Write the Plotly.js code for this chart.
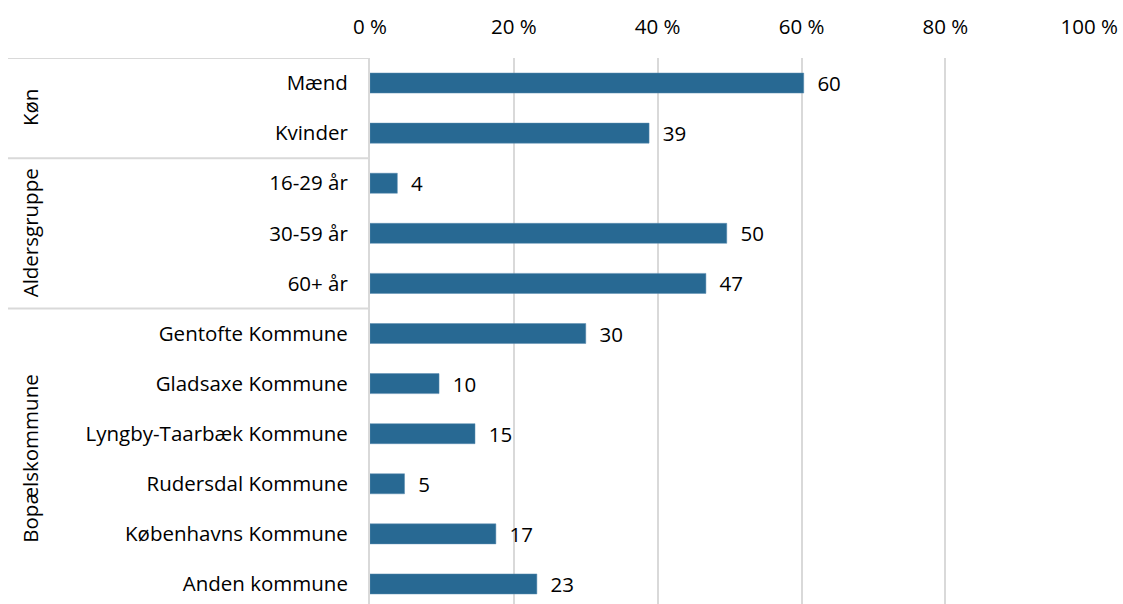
<!DOCTYPE html>
<html>
<head>
<meta charset="utf-8">
<script src="https://cdn.plot.ly/plotly-3.0.1.min.js"></script>
<style>html,body{margin:0;padding:0;background:#fff;}#chart{width:1123px;height:604px;}</style>
</head>
<body>
<div id="chart"></div>
<script>
// Data
const categories = ["Mænd","Kvinder","16-29 år","30-59 år","60+ år","Gentofte Kommune","Gladsaxe Kommune","Lyngby-Taarbæk Kommune","Rudersdal Kommune","Københavns Kommune","Anden kommune"];
const values = [60.3, 38.8, 3.8, 49.6, 46.7, 30.0, 9.6, 14.6, 4.8, 17.5, 23.2];
const valueLabels = ["60","39","4","50","47","30","10","15","5","17","23"];
const groupNames = ["Køn","Aldersgruppe","Bopælskommune"];
const groupStart = [0, 2, 5];
const groupEnd = [1, 4, 10];
const tickValues = [0, 20, 40, 60, 80, 100];

const FONT = "'Open Sans', Lato, sans-serif";
const FS = 20.5;
const gridCol = "#d9d9d9";

const trace = {
  type: "bar",
  orientation: "h",
  y: categories.map((c, i) => i),
  x: values,
  text: valueLabels,
  texttemplate: "\u00a0\u00a0%{text}",
  textposition: "outside",
  constraintext: "none",
  textfont: {family: FONT, size: FS, color: "#000"},
  cliponaxis: false,
  marker: {color: "#286993", line: {color: "#5b8db0", width: 0.5}},
  width: 0.4,
  hoverinfo: "none"
};

const shapes = [];
const annotations = [];
const leftEdge = -(370 - 8) / 720;
groupStart.forEach((s, gi) => {
  shapes.push({type: "line", xref: "paper", yref: "y", x0: leftEdge, x1: 0, y0: s - 0.5, y1: s - 0.5, line: {color: gridCol, width: 2}});
  annotations.push({
    xref: "paper", yref: "y", x: (30 - 370) / 720, y: (s + groupEnd[gi]) / 2,
    text: groupNames[gi], textangle: -90, showarrow: false,
    font: {family: FONT, size: FS, color: "#000"}, xanchor: "center", yanchor: "middle"
  });
});

const layout = {
  width: 1123, height: 604,
  margin: {l: 370, r: 33, t: 58, b: 0},
  paper_bgcolor: "#fff", plot_bgcolor: "#fff",
  showlegend: false,
  font: {family: FONT, size: FS, color: "#000"},
  xaxis: {
    side: "top", range: [0, 100.1], tickvals: tickValues,
    ticktext: tickValues.map(v => v + " %"),
    showgrid: true, gridcolor: gridCol, gridwidth: 2,
    zeroline: false, showline: false, ticks: "",
    ticklabelstandoff: 19,
    tickfont: {family: FONT, size: FS, color: "#000"},
    fixedrange: true
  },
  yaxis: {
    range: [10.4, -0.5],
    tickvals: categories.map((c, i) => i), ticktext: categories,
    showgrid: false, zeroline: false,
    showline: true, linecolor: gridCol, linewidth: 2,
    ticks: "", ticklabelstandoff: 16,
    tickfont: {family: FONT, size: FS, color: "#000"},
    fixedrange: true
  },
  shapes: shapes,
  annotations: annotations
};

Plotly.newPlot("chart", [trace], layout, {displayModeBar: false, staticPlot: true});
</script>
</body>
</html>
